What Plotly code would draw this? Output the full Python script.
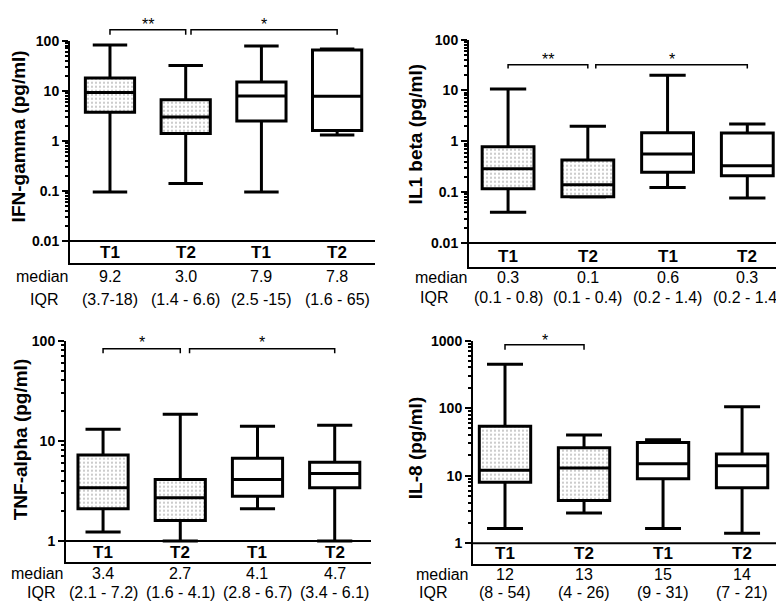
import plotly.graph_objects as go

W, H = 784, 601
FONT = "Liberation Sans, Arial, sans-serif"

cats = ["T1", "T2", "T1", "T2"]

# IFN-gamma
ifn_q1 = [3.7, 1.4, 2.5, 1.6]
ifn_med = [9.2, 3.0, 7.9, 7.8]
ifn_q3 = [18, 6.6, 15, 65]
ifn_lo = [0.095, 0.14, 0.095, 1.3]
ifn_hi = [82, 32, 78, 68]
ifn_med_txt = ["9.2", "3.0", "7.9", "7.8"]
ifn_iqr_txt = ["(3.7-18)", "(1.4 - 6.6)", "(2.5 -15)", "(1.6 - 65)"]

# IL1 beta
il1_q1 = [0.117, 0.081, 0.245, 0.21]
il1_med = [0.29, 0.14, 0.56, 0.33]
il1_q3 = [0.78, 0.43, 1.47, 1.45]
il1_lo = [0.04, 0.08, 0.123, 0.077]
il1_hi = [10.7, 1.98, 20, 2.2]
il1_med_txt = ["0.3", "0.1", "0.6", "0.3"]
il1_iqr_txt = ["(0.1 - 0.8)", "(0.1 - 0.4)", "(0.2 - 1.4)", "(0.2 - 1.4)"]

# TNF-alpha
tnf_q1 = [2.1, 1.6, 2.8, 3.4]
tnf_med = [3.4, 2.7, 4.1, 4.7]
tnf_q3 = [7.2, 4.1, 6.7, 6.1]
tnf_lo = [1.23, 1.0, 2.1, 1.0]
tnf_hi = [13, 18.4, 14, 14.3]
tnf_med_txt = ["3.4", "2.7", "4.1", "4.7"]
tnf_iqr_txt = ["(2.1 - 7.2)", "(1.6 - 4.1)", "(2.8 - 6.7)", "(3.4 - 6.1)"]

# IL-8
il8_q1 = [8, 4.3, 9, 6.6]
il8_med = [12, 13, 15, 14]
il8_q3 = [54, 26, 31, 21]
il8_lo = [1.65, 2.8, 1.65, 1.4]
il8_hi = [446, 40, 34, 105]
il8_med_txt = ["12", "13", "15", "14"]
il8_iqr_txt = ["(8 - 54)", "(4 - 26)", "(9 - 31)", "(7 - 21)"]

dotted = [".", ".", "", ""]

panels = [
    dict(title="IFN-gamma (pg/ml)", q1=ifn_q1, med=ifn_med, q3=ifn_q3, lo=ifn_lo, hi=ifn_hi,
         mtxt=ifn_med_txt, itxt=ifn_iqr_txt, ticks=[0.01, 0.1, 1, 10, 100],
         yr=[-2.433, 2], xr=[-0.528, 3.50], px=(62, 367), py=(25, 250),
         tl_y=240, med_y=264, iqr_y=287, lab_x=(34, 36), title_xy=(10, 122),
         brackets=[(0, 1, "**"), (1.07, 3, "*")], br_y=(1.049, 1.027), star_y=1.071),
    dict(title="IL1 beta (pg/ml)", q1=il1_q1, med=il1_med, q3=il1_q3, lo=il1_lo, hi=il1_hi,
         mtxt=il1_med_txt, itxt=il1_iqr_txt, ticks=[0.01, 0.1, 1, 10, 100],
         yr=[-2.466, 2], xr=[-0.49, 3.41], px=(461, 772), py=(24, 254),
         tl_y=244, med_y=265, iqr_y=285, lab_x=(433, 426), title_xy=(407, 120),
         brackets=[(0, 1, "**"), (1.1, 3, "*")], br_y=(0.89, 0.873), star_y=0.913),
    dict(title="TNF-alpha (pg/ml)", q1=tnf_q1, med=tnf_med, q3=tnf_q3, lo=tnf_lo, hi=tnf_hi,
         mtxt=tnf_med_txt, itxt=tnf_iqr_txt, ticks=[1, 10, 100],
         yr=[-0.207, 2], xr=[-0.48, 3.47], px=(58, 363), py=(329, 553),
         tl_y=544, med_y=565, iqr_y=584, lab_x=(29, 33), title_xy=(12, 430),
         brackets=[(0, 1, "*"), (1.12, 3, "*")], br_y=(0.963, 0.943), star_y=0.991),
    dict(title="IL-8 (pg/ml)", q1=il8_q1, med=il8_med, q3=il8_q3, lo=il8_lo, hi=il8_hi,
         mtxt=il8_med_txt, itxt=il8_iqr_txt, ticks=[1, 10, 100, 1000],
         yr=[-0.303, 3], xr=[-0.405, 3.48], px=(465, 772), py=(329, 555),
         tl_y=545, med_y=566, iqr_y=584, lab_x=(434, 425), title_xy=(407, 438),
         brackets=[(0, 1, "*")], br_y=(0.981, 0.959), star_y=1.0),
]

fig = go.Figure()
shapes, annotations = [], []
BOXW = 0.65
TXT = dict(family=FONT, size=16, color="black")

for i, p in enumerate(panels):
    n = i + 1
    xa = "x" if n == 1 else f"x{n}"
    ya = "y" if n == 1 else f"y{n}"
    xs = list(range(len(cats)))
    span = [q3 - q1 for q1, q3 in zip(p["q1"], p["q3"])]
    fig.add_trace(go.Bar(
        x=xs, y=span, base=p["q1"], width=BOXW, xaxis=xa, yaxis=ya,
        marker=dict(color="white", line=dict(width=0),
                    pattern=dict(shape=dotted, fgcolor="#333333", bgcolor="white",
                                 size=4, solidity=0.15)),
        hoverinfo="skip", showlegend=False))
    fig.add_trace(go.Box(
        x=xs, q1=p["q1"], median=p["med"], q3=p["q3"],
        lowerfence=p["lo"], upperfence=p["hi"], width=BOXW, whiskerwidth=0.7,
        boxpoints=False, fillcolor="rgba(0,0,0,0)",
        line=dict(color="black", width=3), xaxis=xa, yaxis=ya,
        hoverinfo="skip", showlegend=False))

    dx = [p["px"][0] / W, p["px"][1] / W]
    dy = [1 - p["py"][1] / H, 1 - p["py"][0] / H]
    lo_dec, hi_dec = p["ticks"][0], p["ticks"][-1]
    minor_vals = []
    d = lo_dec
    while d < hi_dec:
        minor_vals += [d * k for k in range(2, 10)]
        d *= 10
    sfx = "" if n == 1 else str(n)
    fig.layout["xaxis" + sfx] = dict(
        domain=dx, range=p["xr"], anchor=ya, showline=True, linecolor="black",
        linewidth=2, ticks="", showticklabels=False, showgrid=False,
        zeroline=False, fixedrange=True)
    fig.layout["yaxis" + sfx] = dict(
        domain=dy, type="log", range=p["yr"], anchor=xa, showline=True,
        linecolor="black", linewidth=2, showgrid=False, zeroline=False,
        tickmode="array", tickvals=p["ticks"], ticktext=[f"{t:g}" for t in p["ticks"]],
        ticks="outside", ticklen=6, tickwidth=2, tickcolor="black",
        tickfont=dict(family=FONT, size=14, color="black", weight="bold"),
        minor=dict(tickmode="array", tickvals=minor_vals, ticks="outside",
                   ticklen=3, tickwidth=1.5, tickcolor="black", showgrid=False),
        fixedrange=True)

    # baseline at lowest labelled tick
    shapes.append(dict(type="line", xref=xa + " domain", yref=ya, x0=0, x1=1,
                       y0=lo_dec, y1=lo_dec, line=dict(color="black", width=2)))

    # significance brackets
    xr0, xr1 = p["xr"]

    def fx(c):
        return (c - xr0) / (xr1 - xr0)
    ytop, yleg = p["br_y"]
    for a, b, s in p["brackets"]:
        shapes.append(dict(type="path", xref=xa + " domain", yref=ya + " domain",
                           path=f"M{fx(a)},{yleg} L{fx(a)},{ytop} L{fx(b)},{ytop} L{fx(b)},{yleg}",
                           line=dict(color="black", width=1.5)))
        annotations.append(dict(text=s, x=(a + b) / 2, xref=xa, y=p["star_y"],
                                yref=ya + " domain", showarrow=False,
                                font=dict(family=FONT, size=16, color="black"),
                                xanchor="center", yanchor="middle"))

    # category labels, medians and IQRs
    for k, c in enumerate(cats):
        annotations.append(dict(text=f"<b>{c}</b>", x=k, xref=xa, y=1 - p["tl_y"] / H,
                                yref="paper", showarrow=False, xanchor="center",
                                yanchor="middle", font=dict(family=FONT, size=17, color="black")))
        annotations.append(dict(text=p["mtxt"][k], x=k, xref=xa, y=1 - p["med_y"] / H,
                                yref="paper", showarrow=False, xanchor="center",
                                yanchor="middle", font=TXT))
        annotations.append(dict(text=p["itxt"][k], x=k, xref=xa, y=1 - p["iqr_y"] / H,
                                yref="paper", showarrow=False, xanchor="center",
                                yanchor="middle", font=TXT))
    annotations.append(dict(text="median", x=p["lab_x"][0] / W, xref="paper",
                            y=1 - p["med_y"] / H, yref="paper", showarrow=False,
                            xanchor="center", yanchor="middle", font=TXT))
    annotations.append(dict(text="IQR", x=p["lab_x"][1] / W, xref="paper",
                            y=1 - p["iqr_y"] / H, yref="paper", showarrow=False,
                            xanchor="center", yanchor="middle", font=TXT))
    # y-axis title
    annotations.append(dict(text=f"<b>{p['title']}</b>", x=p["title_xy"][0] / W,
                            xref="paper", y=1 - p["title_xy"][1] / H, yref="paper",
                            showarrow=False, textangle=-90, xanchor="center",
                            yanchor="middle", font=dict(family=FONT, size=19, color="black")))

fig.update_layout(
    width=W, height=H, margin=dict(l=0, r=0, t=0, b=0),
    paper_bgcolor="white", plot_bgcolor="white",
    shapes=shapes, annotations=annotations, showlegend=False,
    font=dict(family=FONT, color="black"),
)

fig.write_html("out.html", config={"displayModeBar": False})
